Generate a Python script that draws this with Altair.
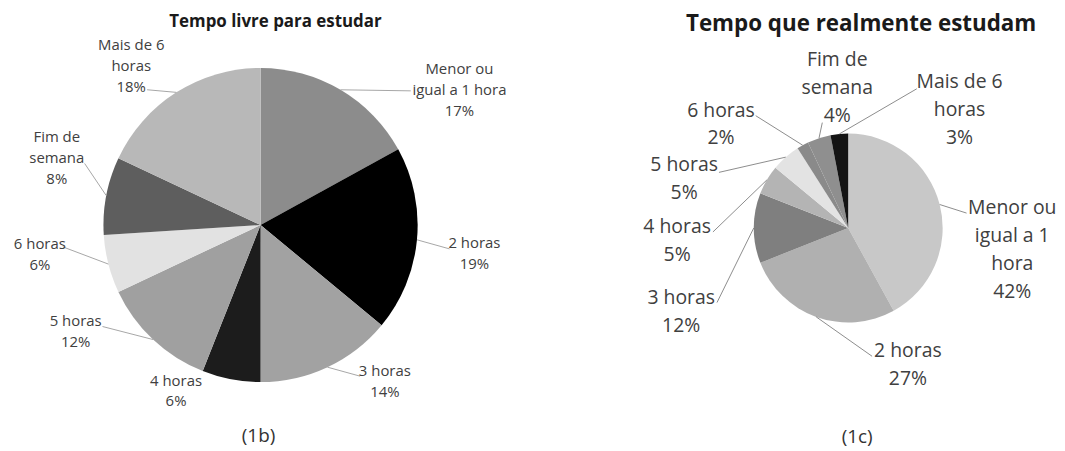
import math
import altair as alt
import pandas as pd

# ---------------- data ----------------
categories = ["Menor ou igual a 1 hora", "2 horas", "3 horas", "4 horas",
              "5 horas", "6 horas", "Fim de semana", "Mais de 6 horas"]
livre_pct = [17, 19, 14, 6, 12, 6, 8, 18]
real_pct = [42, 27, 12, 5, 5, 2, 4, 3]

livre_names = ["Menor ou\nigual a 1 hora", "2 horas", "3 horas", "4 horas",
               "5 horas", "6 horas", "Fim de\nsemana", "Mais de 6\nhoras"]
real_names = ["Menor ou\nigual a 1\nhora", "2 horas", "3 horas", "4 horas",
              "5 horas", "6 horas", "Fim de\nsemana", "Mais de 6\nhoras"]

titles = ["Tempo livre para estudar", "Tempo que realmente estudam"]
captions = ["(1b)", "(1c)"]

# ---------------- styles / layout ----------------
livre_colors = ["#8c8c8c", "#000000", "#a2a2a2", "#1c1c1c",
                "#a0a0a0", "#e2e2e2", "#5e5e5e", "#b8b8b8"]
real_colors = ["#c8c8c8", "#b0b0b0", "#7f7f7f", "#b4b4b4",
               "#e3e3e3", "#8a8a8a", "#8f8f8f", "#141414"]

# label block centres and leader-line ends, in pie-radius units relative to centre (y up)
livre_label_pos = [(1.266, 0.861), (1.361, -0.180), (0.791, -0.997), (-0.538, -1.057),
                   (-1.177, -0.680), (-1.405, -0.190), (-1.297, 0.424), (-0.823, 1.013)]
livre_line_end = [(0.956, 0.854), (1.203, -0.152), (0.633, -0.962), None,
                  (-1.006, -0.646), (-1.259, -0.139), (-1.120, 0.392), (-0.722, 0.861)]
real_label_pos = [(1.737, -0.232), (0.632, -1.453), (-1.768, -0.889), (-1.811, -0.137),
                  (-1.737, 0.516), (-1.347, 1.095), (-0.116, 1.479), (1.179, 1.247)]
real_line_end = [(1.253, 0.158), (0.253, -1.358), (-1.389, -0.789), (-1.432, -0.042),
                 (-1.368, 0.589), (-0.979, 1.189), (-0.274, 1.116), (0.726, 1.474)]

FONT = "Open Sans"

panels = [
    dict(values=livre_pct, names=livre_names, colors=livre_colors,
         label_pos=livre_label_pos, line_end=livre_line_end,
         title=titles[0], caption=captions[0],
         W=508, H=434, R=158, title_xy=(0.095, 1.291), caption_xy=(-0.013, -1.342),
         fs=15, lh=21, title_fs=17, line_color="#a6a6a6"),
    dict(values=real_pct, names=real_names, colors=real_colors,
         label_pos=real_label_pos, line_end=real_line_end,
         title=titles[1], caption=captions[1],
         W=420, H=440, R=95, title_xy=(0.137, 2.158), caption_xy=(0.095, -2.211),
         fs=19.5, lh=28, title_fs=22.5, line_color="#8c8c8c"),
]


def make_panel(p):
    vals = p["values"]
    total = float(sum(vals))
    R, lh = p["R"], p["lh"]
    rows = []
    cum = 0.0
    for i, (cat, v) in enumerate(zip(categories, vals)):
        mid = (cum + v / 2.0) / total * 2 * math.pi
        cum += v
        label = f"{p['names'][i]}\n{v}%"
        n_lines = label.count("\n") + 1
        lx, ly = p["label_pos"][i]
        # the first line sits on the anchor: move anchor up so the block is centred
        ly_first = ly + (n_lines - 1) / 2.0 * lh / R
        end = p["line_end"][i]
        rows.append(dict(idx=i, category=cat, value=v, color=p["colors"][i],
                         label=label, lx=lx, ly=ly_first,
                         sx=math.sin(mid), sy=math.cos(mid),
                         ex=end[0] if end else None, ey=end[1] if end else None))
    df = pd.DataFrame(rows)
    lines_df = df.dropna(subset=["ex"])

    W, H = p["W"], p["H"]
    xs = alt.Scale(domain=[-W / 2 / R, W / 2 / R])
    ys = alt.Scale(domain=[-H / 2 / R, H / 2 / R])

    arc = alt.Chart(df).mark_arc(outerRadius=R).encode(
        theta=alt.Theta("value:Q", stack=True),
        color=alt.Color("color:N", scale=None),
        order=alt.Order("idx:Q"),
    )
    rules = alt.Chart(lines_df).mark_rule(color=p["line_color"], strokeWidth=1).encode(
        x=alt.X("sx:Q", scale=xs, axis=None),
        y=alt.Y("sy:Q", scale=ys, axis=None),
        x2="ex:Q", y2="ey:Q",
    )
    labels = alt.Chart(df).mark_text(
        font=FONT, fontSize=p["fs"], lineHeight=lh, lineBreak="\n",
        color="#404040", align="center", baseline="middle",
    ).encode(
        x=alt.X("lx:Q", scale=xs, axis=None),
        y=alt.Y("ly:Q", scale=ys, axis=None),
        text="label:N",
    )
    tdf = pd.DataFrame([dict(x=p["title_xy"][0], y=p["title_xy"][1], t=p["title"])])
    cdf = pd.DataFrame([dict(x=p["caption_xy"][0], y=p["caption_xy"][1], t=p["caption"])])
    title = alt.Chart(tdf).mark_text(
        font=FONT, fontSize=p["title_fs"], fontWeight="bold", color="#1a1a1a",
        baseline="middle",
    ).encode(x=alt.X("x:Q", scale=xs, axis=None), y=alt.Y("y:Q", scale=ys, axis=None), text="t:N")
    caption = alt.Chart(cdf).mark_text(
        font=FONT, fontSize=19, color="#333333", baseline="middle",
    ).encode(x=alt.X("x:Q", scale=xs, axis=None), y=alt.Y("y:Q", scale=ys, axis=None), text="t:N")

    return alt.layer(arc, rules, labels, title, caption).properties(width=W, height=H)


chart = alt.hconcat(make_panel(panels[0]), make_panel(panels[1]), spacing=127).resolve_scale(
    x="independent", y="independent"
).properties(padding=0, background="white").configure_view(stroke=None)

chart.save("out.html", embed_options={"renderer": "svg", "actions": False})
